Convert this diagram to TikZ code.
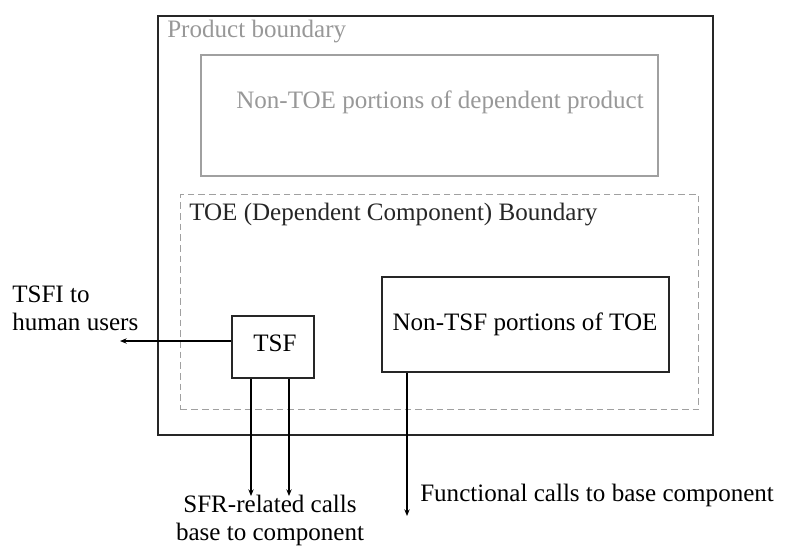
\documentclass[tikz,border=0pt]{standalone}
\usepackage{fontspec}
\setmainfont{Liberation Serif}
\usetikzlibrary{arrows.meta,calc}
\definecolor{boundgray}{HTML}{A0A0A0}
\definecolor{textgray}{HTML}{989898}
\tikzset{
  box/.style={draw, line width=1.5pt, anchor=north west, inner sep=0pt},
  call/.style={line width=1pt, -{Stealth[length=5pt,width=4pt]}},
  lbl/.style={inner sep=0pt}
}
\begin{document}
\begin{tikzpicture}[x=0.75pt,y=-0.75pt,font=\fontsize{18.8}{21}\selectfont]
\useasboundingbox (0,0) rectangle (785,547);

% Product boundary
\node[box, draw=black!85, minimum width=416.25pt, minimum height=314.25pt] (product) at (157,15) {};
\node[lbl, anchor=west, text=textgray] (productlbl) at (167,32) {Product boundary};

% Non-TOE portions
\node[box, draw=boundgray, minimum width=342.75pt, minimum height=90.75pt] (nontoe) at (200,54) {};
\node[lbl, text=textgray] (nontoelbl) at (440,102) {Non-TOE portions of dependent product};

% TOE boundary
\node[box, draw=boundgray, line width=1pt, dash pattern=on 5pt off 3pt, minimum width=388.5pt, minimum height=161.25pt] (toe) at (180,194) {};
\node[lbl, anchor=west, text=black!85] (toelbl) at (189,215) {TOE (Dependent Component) Boundary};

% TSF and Non-TSF
\node[box, draw=black!85, minimum width=61.5pt, minimum height=46.5pt] (tsf) at (231,315) {};
\node[lbl] (tsflbl) at (275,343) {TSF};
\node[box, draw=black!85, minimum width=215.25pt, minimum height=71.25pt] (nontsf) at (381,276) {};
\node[lbl] (nontsflbl) at (525,324) {Non-TSF portions of TOE};

% Interfaces
\coordinate (tsfi) at (120,341);
\coordinate (sfra) at (251,496);
\coordinate (sfrb) at (289,496);
\coordinate (func) at (407,516);
\draw[call] (tsf.west |- tsfi) -- (tsfi);
\draw[call] (tsf.south -| sfra) -- (sfra);
\draw[call] (tsf.south -| sfrb) -- (sfrb);
\draw[call] (nontsf.south -| func) -- (func);

\node[lbl, anchor=west, align=left] (tsfilbl) at (12,308) {TSFI to\\human users};
\node[lbl, align=center] (sfrlbl) at (270,520) {SFR-related calls\\base to component};
\node[lbl, anchor=west] (funclbl) at (420,495) {Functional calls to base component};
\end{tikzpicture}
\end{document}
